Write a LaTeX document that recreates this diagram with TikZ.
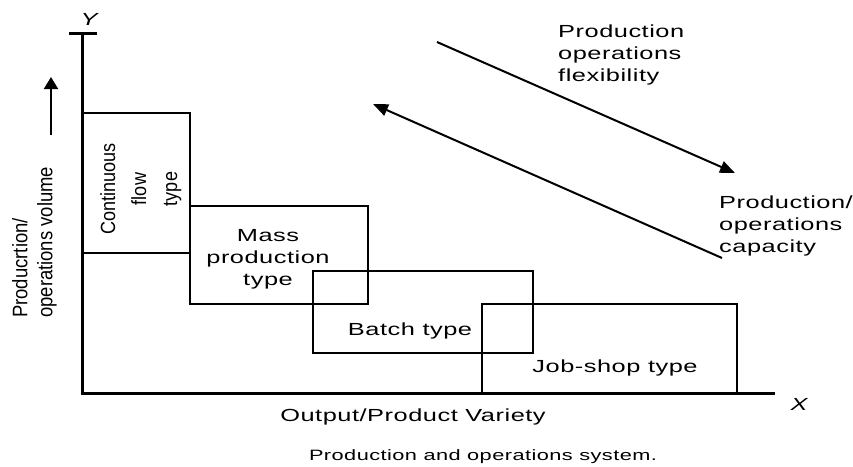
\documentclass[tikz,border=0pt]{standalone}
\usepackage{fontspec}
\setmainfont{Liberation Sans}
\newfontfamily\widesans[FakeStretch=1.45,LetterSpace=3]{Liberation Sans}
\newfontfamily\narrowsans[FakeStretch=0.88]{Liberation Sans}
\usetikzlibrary{arrows.meta}
\begin{document}
\begin{tikzpicture}[x=1pt,y=-1pt]
        % Styles
        \tikzstyle{axes}=[line width=3pt]
        \tikzstyle{type box}=[line width=2pt]
        \tikzstyle{trend}=[line width=2pt,-{Triangle[length=15pt,width=12pt]}]
        \tikzstyle{wide text}=[inner sep=0pt,font=\widesans\fontsize{17.5}{22}\selectfont]
        \tikzstyle{side text}=[inner sep=0pt,rotate=90,font=\narrowsans\fontsize{20.5}{31}\selectfont]
        \useasboundingbox (0,0) rectangle (853,466);
        %axes
        \coordinate (origin) at (82,393);
        \coordinate (y end) at (82,33);
        \coordinate (x end) at (775,393);
        \draw[style=axes] (y end) -- (origin) -- (x end);
        \draw[style=axes] (69,33) -- (97,33);
        \node[wide text,anchor=base] (y label) at (89,25) {\itshape Y};
        \node[wide text,anchor=base] (x label) at (799,410) {\itshape X};
        \node[wide text,anchor=base] (variety) at (413,421) {Output/Product Variety};
        \node[side text,anchor=north west,align=left,font=\narrowsans\fontsize{21}{25}\selectfont] (volume) at (12,318) {Producrtion/\\operations volume};
        \coordinate (up start) at (51,135);
        \coordinate (up end) at (51,77);
        \draw[trend,-{Triangle[length=12pt,width=14pt]}] (up start) -- (up end);
        %boxes
        \draw[style=type box] (82,113) rectangle (190,253);
        \draw[style=type box] (190,206) rectangle (368,304);
        \draw[style=type box] (313,271) rectangle (533,353);
        \draw[style=type box] (482,304) rectangle (737,393);
        \node[side text,anchor=north,align=center] (continuous) at (100,189) {Continuous\\flow\\type};
        \node[wide text,anchor=north,align=center] (mass) at (268,229) {Mass\\production\\type};
        \node[wide text,anchor=base] (batch) at (410,335) {Batch type};
        \node[wide text,anchor=base] (jobshop) at (615,372) {Job-shop type};
        %trends
        \coordinate (flex start) at (437,42);
        \coordinate (flex end) at (735,173);
        \coordinate (cap start) at (722,258);
        \coordinate (cap end) at (373,104);
        \draw[style=trend] (flex start) -- (flex end);
        \draw[style=trend] (cap start) -- (cap end);
        \node[wide text,anchor=north west,align=left] (flexibility) at (558,25) {Production\\operations\\flexibility};
        \node[wide text,anchor=north west,align=left] (capacity) at (719,196) {Production/\\operations\\capacity};
        %caption
        \node[wide text,anchor=base,font=\widesans\fontsize{15}{18}\selectfont] (caption) at (483,460) {Production and operations system.};
\end{tikzpicture}
\end{document}
